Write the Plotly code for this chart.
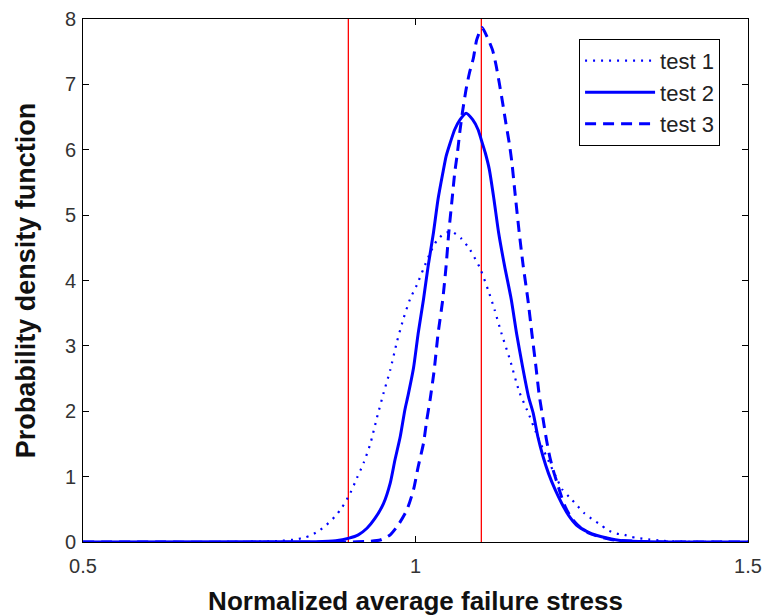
import plotly.graph_objects as go

# ---- data ----
x_test1 = [0.50, 0.70, 0.78, 0.80, 0.82, 0.834, 0.844, 0.856, 0.866, 0.879,
           0.889, 0.902, 0.912, 0.922, 0.932, 0.942, 0.952, 0.962, 0.972, 0.982,
           0.992, 1.002, 1.012, 1.022, 1.032, 1.042, 1.054, 1.069, 1.082, 1.097,
           1.109, 1.119, 1.129, 1.142, 1.156, 1.171, 1.181, 1.191, 1.201, 1.211,
           1.221, 1.231, 1.242, 1.254, 1.267, 1.279, 1.289, 1.302, 1.314, 1.324,
           1.334, 1.35, 1.37, 1.40, 1.50]
y_test1 = [0, 0, 0.01, 0.02, 0.04, 0.07, 0.11, 0.18, 0.26, 0.39,
           0.52, 0.75, 0.98, 1.21, 1.50, 1.90, 2.28, 2.63, 3.06, 3.42,
           3.72, 3.93, 4.18, 4.42, 4.61, 4.71, 4.75, 4.64, 4.47, 4.19,
           3.86, 3.55, 3.20, 2.79, 2.30, 1.94, 1.68, 1.44, 1.22, 1.00,
           0.80, 0.69, 0.57, 0.44, 0.34, 0.26, 0.18, 0.13, 0.11, 0.08,
           0.06, 0.04, 0.02, 0.005, 0]

x_test2 = [0.50, 0.85, 0.88, 0.90, 0.914, 0.927, 0.939, 0.952, 0.962, 0.969,
           0.977, 0.984, 0.989, 0.997, 1.004, 1.012, 1.019, 1.027, 1.034, 1.041,
           1.046, 1.052, 1.059, 1.067, 1.076, 1.086, 1.094, 1.099, 1.105, 1.111,
           1.118, 1.125, 1.134, 1.144, 1.152, 1.161, 1.170, 1.177, 1.184, 1.192,
           1.200, 1.210, 1.220, 1.230, 1.242, 1.258, 1.273, 1.288, 1.31, 1.35, 1.50]
y_test2 = [0, 0.005, 0.02, 0.06, 0.11, 0.21, 0.36, 0.59, 0.90, 1.25,
           1.61, 2.02, 2.25, 2.66, 3.19, 3.71, 4.22, 4.73, 5.25, 5.64,
           5.90, 6.10, 6.31, 6.46, 6.56, 6.46, 6.31, 6.15, 5.95, 5.70,
           5.24, 4.73, 4.22, 3.71, 3.19, 2.68, 2.22, 1.97, 1.61, 1.30,
           1.05, 0.80, 0.59, 0.41, 0.26, 0.16, 0.10, 0.06, 0.02, 0.003, 0]

x_test3 = [0.50, 0.90, 0.93, 0.947, 0.962, 0.974, 0.987, 0.997, 1.004, 1.012,
           1.017, 1.022, 1.028, 1.034, 1.041, 1.046, 1.050, 1.055, 1.059, 1.063,
           1.067, 1.071, 1.076, 1.081, 1.087, 1.092, 1.100, 1.108, 1.116, 1.121,
           1.126, 1.131, 1.136, 1.141, 1.145, 1.149, 1.156, 1.162, 1.169, 1.175,
           1.181, 1.186, 1.192, 1.197, 1.202, 1.207, 1.214, 1.220, 1.226, 1.235,
           1.247, 1.262, 1.277, 1.30, 1.35, 1.50]
y_test3 = [0, 0, 0.01, 0.03, 0.11, 0.26, 0.49, 0.80, 1.15, 1.51,
           1.87, 2.18, 2.62, 3.19, 3.71, 4.22, 4.73, 5.24, 5.65, 5.95,
           6.30, 6.60, 6.92, 7.17, 7.40, 7.68, 7.87, 7.72, 7.52, 7.30,
           7.02, 6.72, 6.40, 6.10, 5.80, 5.40, 4.73, 4.22, 3.71, 3.19,
           2.69, 2.25, 1.87, 1.56, 1.30, 1.10, 0.87, 0.68, 0.52, 0.36,
           0.23, 0.13, 0.08, 0.03, 0.005, 0]

red_lines_x = [0.899, 1.099]
red_lines_y = [0, 8]

series_names = ["test 1", "test 2", "test 3"]
x_ticks = [0.5, 1, 1.5]
x_tick_text = ["0.5", "1", "1.5"]
y_ticks = [0, 1, 2, 3, 4, 5, 6, 7, 8]

FONT = "Liberation Sans, Arial, sans-serif"

fig = go.Figure()

for xv in red_lines_x:
    fig.add_trace(go.Scatter(x=[xv, xv], y=red_lines_y, mode="lines",
                             line=dict(color="#ff0000", width=1.3),
                             showlegend=False, hoverinfo="skip"))

fig.add_trace(go.Scatter(x=x_test1, y=y_test1, mode="lines", name=series_names[0],
                         line=dict(color="#0000ff", width=2.2, dash="2px,6px",
                                   shape="spline", smoothing=0.6)))
fig.add_trace(go.Scatter(x=x_test2, y=y_test2, mode="lines", name=series_names[1],
                         line=dict(color="#0000ff", width=3,
                                   shape="spline", smoothing=0.6)))
fig.add_trace(go.Scatter(x=x_test3, y=y_test3, mode="lines", name=series_names[2],
                         line=dict(color="#0000ff", width=3, dash="11px,7px",
                                   shape="spline", smoothing=0.6)))

fig.update_layout(
    width=763, height=616,
    margin=dict(l=83, r=15, t=19, b=74, autoexpand=False),
    paper_bgcolor="white", plot_bgcolor="white",
    font=dict(family=FONT, color="#222222"),
    showlegend=True,
    legend=dict(x=0.958, y=0.962, xanchor="right", yanchor="top",
                bordercolor="black", borderwidth=1, bgcolor="white",
                font=dict(size=22, family=FONT, color="#222222"),
                tracegroupgap=0, itemwidth=70),
)

fig.update_xaxes(range=[0.5, 1.5], tickvals=x_ticks, ticktext=x_tick_text,
                 automargin=False,
                 ticks="inside", ticklen=6, tickcolor="black",
                 showline=True, linecolor="black", linewidth=1, mirror="ticks",
                 showgrid=False, zeroline=False, ticklabelstandoff=6,
                 tickfont=dict(size=20, family=FONT, color="#333333"),
                 title=dict(text="<b>Normalized average failure stress</b>",
                            font=dict(size=26, family=FONT, color="#111111"),
                            standoff=18))
fig.update_yaxes(range=[0, 8], tickvals=y_ticks,
                 automargin=False,
                 ticks="inside", ticklen=6, tickcolor="black",
                 showline=True, linecolor="black", linewidth=1, mirror="ticks",
                 showgrid=False, zeroline=False, ticklabelstandoff=2,
                 tickfont=dict(size=20, family=FONT, color="#333333"),
                 title=dict(text="<b>Probability density function</b>",
                            font=dict(size=27, family=FONT, color="#111111"),
                            standoff=21))

fig.write_html("out.html")
